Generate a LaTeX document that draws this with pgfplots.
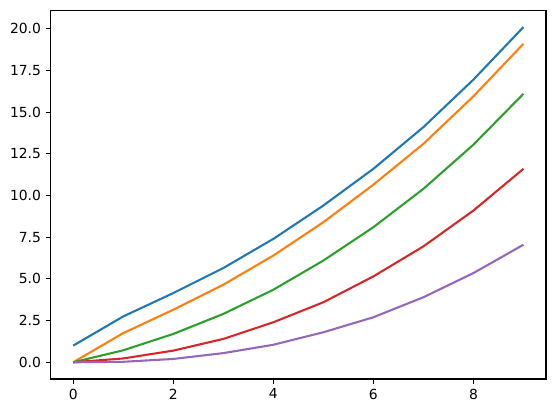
\documentclass[border=0pt]{standalone}
\usepackage{fontspec}
\setmainfont{DejaVu Sans}
\usepackage{pgfplots}
\pgfplotsset{compat=1.18}
\definecolor{tabblue}{HTML}{1F77B4}
\definecolor{taborange}{HTML}{FF7F0E}
\definecolor{tabgreen}{HTML}{2CA02C}
\definecolor{tabred}{HTML}{D62728}
\definecolor{tabpurple}{HTML}{9467BD}
\begin{document}
\begin{tikzpicture}
\begin{axis}[
  scale only axis,
  width=356.6pt, height=265.5pt,
  xmin=-0.45, xmax=9.45,
  ymin=-1.005, ymax=21.105,
  xtick={0,2,4,6,8},
  ytick={0,2.5,5,7.5,10,12.5,15,17.5,20},
  yticklabel style={/pgf/number format/.cd, fixed, fixed zerofill, precision=1},
  /pgf/number format/assume math mode=true,
  tick align=outside,
  major tick length=3.5pt,
  every tick/.style={black, line width=0.8pt},
  axis line style={line width=0.8pt},
  tick label style={font=\fontsize{10}{12}\selectfont},
  xtick pos=bottom, ytick pos=left,
  every axis plot/.append style={line width=1.5pt, line join=round},
]
\addplot[tabblue] coordinates {(0,1.0) (1,2.75) (2,4.15) (3,5.65) (4,7.4) (5,9.4) (6,11.6) (7,14.1) (8,16.95) (9,20.1)};
\addplot[taborange] coordinates {(0,0) (1,1.75) (2,3.15) (3,4.65) (4,6.4) (5,8.4) (6,10.65) (7,13.1) (8,15.95) (9,19.1)};
\addplot[tabgreen] coordinates {(0,0) (1,0.72) (2,1.7) (3,2.9) (4,4.35) (5,6.1) (6,8.1) (7,10.4) (8,13.05) (9,16.1)};
\addplot[tabred] coordinates {(0,0) (1,0.23) (2,0.7) (3,1.4) (4,2.4) (5,3.6) (6,5.15) (7,6.95) (8,9.1) (9,11.6)};
\addplot[tabpurple] coordinates {(0,0) (1,0.03) (2,0.2) (3,0.55) (4,1.05) (5,1.8) (6,2.7) (7,3.9) (8,5.35) (9,7.05)};
\end{axis}
\path[use as bounding box] (current axis.south west) ++(-36.5pt,-24.5pt) rectangle ++(400.3pt,297.4pt);
\end{tikzpicture}
\end{document}
